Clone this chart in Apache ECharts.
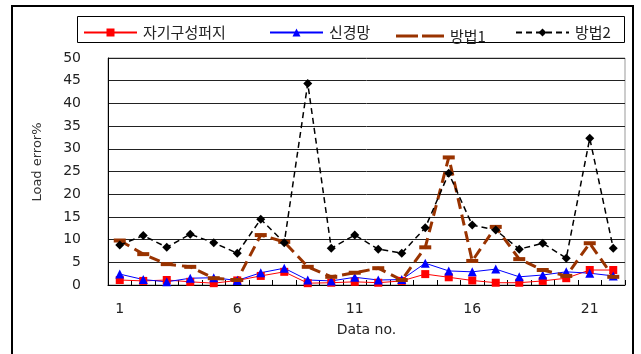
<!DOCTYPE html>
<html>
<head>
<meta charset="utf-8">
<script src="https://cdn.jsdelivr.net/npm/echarts@6/dist/echarts.min.js"></script>
<style>
  html, body { margin: 0; padding: 0; background: #fff; }
  #chart { width: 641px; height: 354px; }
</style>
</head>
<body>
<div id="chart"></div>
<script>
// Load error per data sample for four forecasting methods
const categories = ['1','2','3','4','5','6','7','8','9','10','11','12','13','14','15','16','17','18','19','20','21','22'];
const seriesNames = ['자기구성퍼지', '신경망', '방법1', '방법2'];
const selfOrgFuzzy = [1.1, 0.9, 1.1, 0.7, 0.4, 1.0, 2.0, 2.9, 0.4, 0.5, 0.7, 0.5, 0.9, 2.4, 1.7, 1.0, 0.5, 0.5, 0.9, 1.5, 3.3, 3.3];
const neuralNet    = [2.4, 1.2, 0.7, 1.5, 1.6, 1.0, 2.7, 3.7, 1.1, 0.9, 1.7, 1.1, 1.2, 4.8, 3.1, 2.9, 3.5, 1.8, 2.2, 2.9, 2.6, 2.0];
const method1      = [9.8, 6.8, 4.6, 4.0, 1.5, 1.1, 11.0, 9.5, 4.0, 1.8, 2.7, 3.7, 1.1, 8.3, 28.1, 5.3, 12.8, 5.7, 3.3, 2.0, 9.2, 1.8];
const method2      = [8.8, 10.9, 8.3, 11.2, 9.3, 7.0, 14.5, 9.3, 44.4, 8.1, 11.0, 7.9, 7.0, 12.6, 24.6, 13.2, 12.1, 7.9, 9.2, 5.9, 32.3, 8.1];
const yTicks = { min: 0, max: 50, step: 5 };

const chart = echarts.init(document.getElementById('chart'));
const labelFont = 'DejaVu Sans';
const krFont = '"Noto Sans CJK KR", sans-serif';

function legendAt(name, left, extra) {
  return Object.assign({
    data: [name],
    left: left,
    top: 25,
    padding: 0,
    itemWidth: 53,
    itemHeight: 10,
    itemGap: 0,
    selectedMode: false,
    textStyle: { fontFamily: krFont, fontSize: 15, color: '#222', padding: [0, 0, 0, 1] }
  }, extra || {});
}

chart.setOption({
  animation: false,
  backgroundColor: '#fff',
  grid: { left: 108, right: 16, top: 58, bottom: 69, show: true, borderColor: '#999', borderWidth: 1 },
  legend: [
    legendAt(seriesNames[0], 83),
    legendAt(seriesNames[1], 269),
    legendAt(seriesNames[2], 396, {
      top: 28.5, itemHeight: 3, itemWidth: 48,
      data: [{ name: seriesNames[2], icon: 'path://M0,0h22v3h-22zM26,0h22v3h-22z' }]
    }),
    legendAt(seriesNames[3], 515)
  ],
  xAxis: {
    type: 'category',
    data: categories,
    boundaryGap: true,
    name: 'Data no.',
    nameLocation: 'middle',
    nameGap: 38,
    nameTextStyle: { fontFamily: labelFont, fontSize: 14, color: '#222' },
    axisLine: { lineStyle: { color: '#000', width: 1 } },
    axisTick: { show: true, inside: true, length: 5, interval: 0, lineStyle: { color: '#000' } },
    axisLabel: { interval: 4, margin: 17, fontFamily: labelFont, fontSize: 14, color: '#222' },
    splitLine: { show: false }
  },
  yAxis: {
    type: 'value',
    min: yTicks.min,
    max: yTicks.max,
    interval: yTicks.step,
    axisLine: { show: true, lineStyle: { color: '#000', width: 1 } },
    axisTick: { show: false },
    axisLabel: { margin: 27, fontFamily: labelFont, fontSize: 14, color: '#222' },
    splitLine: { show: true, lineStyle: { color: '#222', width: 1 } }
  },
  graphic: [
    {
      type: 'rect', silent: true, z: -1,
      shape: { x: 12, y: 6, width: 621, height: 360 },
      style: { fill: 'none', stroke: '#000', lineWidth: 2 }
    },
    {
      type: 'rect', silent: true, z: -1,
      shape: { x: 77.5, y: 16.5, width: 547, height: 26 },
      style: { fill: 'none', stroke: '#000', lineWidth: 1 }
    },
    {
      type: 'text', silent: true,
      x: 38, y: 162, rotation: Math.PI / 2,
      style: { text: 'Load error%', fontFamily: labelFont, fontSize: 13, fill: '#333', align: 'center', verticalAlign: 'middle' }
    }
  ],
  series: [
    {
      name: seriesNames[0], type: 'line', data: selfOrgFuzzy,
      symbol: 'rect', symbolSize: 8, showAllSymbol: true,
      lineStyle: { color: '#ff0000', width: 1 },
      itemStyle: { color: '#ff0000' }
    },
    {
      name: seriesNames[1], type: 'line', data: neuralNet,
      symbol: 'triangle', symbolSize: 9, showAllSymbol: true,
      lineStyle: { color: '#0000ff', width: 1 },
      itemStyle: { color: '#0000ff' }
    },
    {
      name: seriesNames[2], type: 'line', data: method1,
      symbol: 'rect', symbolSize: [12, 4], showAllSymbol: true,
      lineStyle: { color: '#993300', width: 3, type: [11, 6] },
      itemStyle: { color: '#993300' }
    },
    {
      name: seriesNames[3], type: 'line', data: method2,
      symbol: 'diamond', symbolSize: 9, showAllSymbol: true,
      lineStyle: { color: '#000', width: 1.5, type: [6, 4] },
      itemStyle: { color: '#000' }
    }
  ]
});
</script>
</body>
</html>
